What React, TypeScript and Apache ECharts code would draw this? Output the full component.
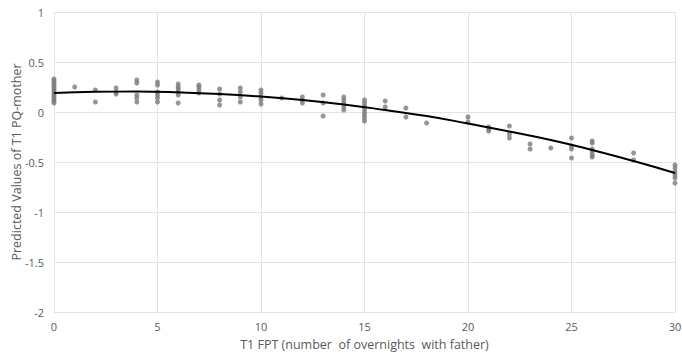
import React, { useEffect, useRef } from "react";
import * as echarts from "echarts";

const xTicks = [0, 5, 10, 15, 20, 25, 30];
const yTicks = [1, 0.5, 0, -0.5, -1, -1.5, -2];

// Observed predicted values [x, y]
const scatterPoints: [number, number][] = [
  [0, 0.33], [0, 0.31], [0, 0.29], [0, 0.27], [0, 0.25], [0, 0.23], [0, 0.21], [0, 0.19], [0, 0.17], [0, 0.15], [0, 0.13], [0, 0.11], [0, 0.09],
  [1, 0.25],
  [2, 0.22], [2, 0.1],
  [3, 0.24], [3, 0.2], [3, 0.18],
  [4, 0.32], [4, 0.29], [4, 0.17], [4, 0.14], [4, 0.1],
  [5, 0.3], [5, 0.27], [5, 0.2], [5, 0.17], [5, 0.14], [5, 0.1],
  [6, 0.28], [6, 0.25], [6, 0.23], [6, 0.2], [6, 0.17], [6, 0.09],
  [7, 0.27], [7, 0.25], [7, 0.22], [7, 0.19],
  [8, 0.23], [8, 0.18], [8, 0.12], [8, 0.07],
  [9, 0.24], [9, 0.2], [9, 0.15], [9, 0.1],
  [10, 0.22], [10, 0.19], [10, 0.15], [10, 0.12], [10, 0.08],
  [11, 0.14],
  [12, 0.15], [12, 0.12], [12, 0.09],
  [13, 0.17], [13, 0.09], [13, -0.04],
  [14, 0.15], [14, 0.12], [14, 0.09], [14, 0.05], [14, 0.02],
  [15, 0.12], [15, 0.09], [15, 0.06], [15, 0.03], [15, 0.0], [15, -0.03], [15, -0.06], [15, -0.09],
  [16, 0.11], [16, 0.05],
  [17, 0.04], [17, -0.05],
  [18, -0.11],
  [20, -0.05], [20, -0.1],
  [21, -0.15], [21, -0.17], [21, -0.19],
  [22, -0.14], [22, -0.22], [22, -0.26],
  [23, -0.32], [23, -0.37],
  [24, -0.36],
  [25, -0.26], [25, -0.34], [25, -0.37], [25, -0.46],
  [26, -0.29], [26, -0.31], [26, -0.37], [26, -0.4], [26, -0.43], [26, -0.45],
  [28, -0.41], [28, -0.48],
  [30, -0.53], [30, -0.56], [30, -0.6], [30, -0.63], [30, -0.66], [30, -0.71],
];

// Fitted curve
const curveX = [0, 2, 4, 6, 8, 10, 12, 14, 16, 18, 20, 22, 24, 26, 28, 30];
const curveY = [0.19, 0.202, 0.204, 0.197, 0.181, 0.155, 0.12, 0.075, 0.02, -0.04, -0.115, -0.195, -0.28, -0.38, -0.49, -0.61];

export default function App() {
  const ref = useRef<HTMLDivElement>(null);
  useEffect(() => {
    if (!ref.current) return;
    const chart = echarts.init(ref.current, null, { renderer: "svg" });
    const font = "Open Sans, Liberation Sans, sans-serif";
    chart.setOption({
      animation: false,
      backgroundColor: "#ffffff",
      grid: { left: 54, right: 7, top: 12, bottom: 50, containLabel: false, outerBoundsMode: "none" },
      xAxis: {
        type: "value",
        min: 0,
        max: 30,
        interval: 5,
        name: "T1 FPT (number  of overnights  with father)",
        nameLocation: "middle",
        nameGap: 26,
        nameMoveOverlap: false,
        nameTextStyle: { color: "#595959", fontSize: 12.5, fontFamily: font },
        axisLine: { show: false },
        axisTick: { show: false },
        axisLabel: {
          color: "#595959",
          fontSize: 11,
          fontFamily: font,
          margin: 9,
          formatter: (v: number) => (xTicks.includes(v) ? String(v) : ""),
        },
        splitLine: { show: true, lineStyle: { color: "#e3e3e3", width: 1 } },
      },
      yAxis: {
        type: "value",
        min: -2,
        max: 1,
        interval: 0.5,
        name: "Predicted Values of T1 PQ-mother",
        nameLocation: "middle",
        nameGap: 31,
        nameMoveOverlap: false,
        nameTextStyle: { color: "#595959", fontSize: 12.5, fontFamily: font },
        axisLine: { show: false },
        axisTick: { show: false },
        axisLabel: {
          color: "#595959",
          fontSize: 11,
          fontFamily: font,
          margin: 10,
          formatter: (v: number) => (yTicks.includes(v) ? String(v) : ""),
        },
        splitLine: { show: true, lineStyle: { color: "#e3e3e3", width: 1 } },
      },
      series: [
        {
          type: "scatter",
          data: scatterPoints,
          symbol: "circle",
          symbolSize: 5,
          itemStyle: { color: "#7a7a7a" },
          z: 2,
        },
        {
          type: "line",
          data: curveX.map((x, i) => [x, curveY[i]]),
          smooth: true,
          showSymbol: false,
          lineStyle: { color: "#000000", width: 2 },
          z: 3,
        },
      ],
    });
    return () => chart.dispose();
  }, []);
  return <div ref={ref} style={{ width: 682, height: 362, position: "absolute", left: 0, top: 0 }} />;
}
